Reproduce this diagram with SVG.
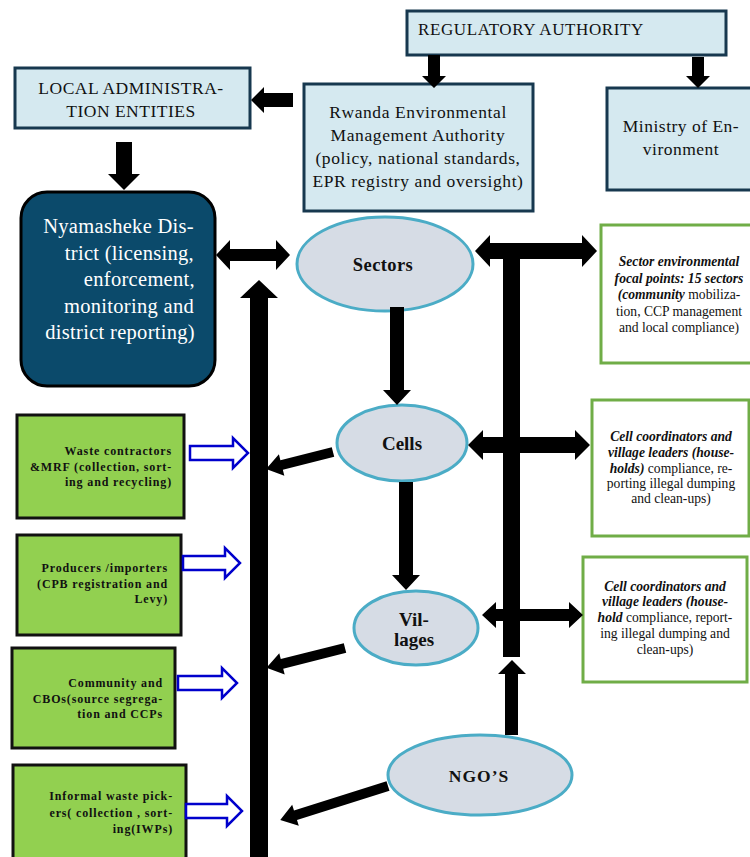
<svg xmlns="http://www.w3.org/2000/svg" width="750" height="857" viewBox="0 0 750 857">
<style>
.box{fill:#d5e9f0;stroke:#17384f;stroke-width:3}
.t{font-family:"Liberation Serif","Times New Roman",serif;fill:#111}
.ell{fill:#d6dce5;stroke:#4bacc6;stroke-width:3}
.gb{fill:#92d050;stroke:#111;stroke-width:3}
.wb{fill:#fff;stroke:#70ad47;stroke-width:3}
.gt{font-family:"Liberation Serif","Times New Roman",serif;font-weight:bold;font-size:12px;letter-spacing:0.85px;fill:#111;text-anchor:end}
.rt{font-family:"Liberation Serif","Times New Roman",serif;font-size:13.6px;fill:#111;text-anchor:middle}
.bi{font-weight:bold;font-style:italic}
.blk{fill:#000}
.hol{fill:#fff;stroke:#0000cc;stroke-width:2.5;stroke-linejoin:miter}
</style>
<rect width="750" height="857" fill="#fff"/>

<g id="regulatory">
<rect class="box" x="407" y="11" width="319" height="44"/>
<text class="t" x="418" y="35" font-size="17" letter-spacing="0.6">REGULATORY AUTHORITY</text>
</g>

<g id="local-admin">
<rect class="box" x="15" y="68" width="235" height="60"/>
<text class="t" x="131" y="94" font-size="17.5" letter-spacing="0.5" text-anchor="middle">LOCAL ADMINISTRA-</text>
<text class="t" x="131" y="117" font-size="17.5" letter-spacing="0.5" text-anchor="middle">TION ENTITIES</text>
</g>

<g id="rema">
<rect class="box" x="304" y="84" width="229" height="127"/>
<text class="t" font-size="17.5" letter-spacing="0.6" text-anchor="middle"><tspan x="418" y="118">Rwanda Environmental</tspan><tspan x="418" y="141">Management Authority</tspan><tspan x="418" y="164">(policy, national standards,</tspan><tspan x="418" y="187">EPR registry and oversight)</tspan></text>
</g>

<g id="ministry">
<rect class="box" x="607" y="88" width="146" height="102"/>
<text class="t" font-size="17.5" letter-spacing="0.5" text-anchor="middle"><tspan x="681" y="132">Ministry of En-</tspan><tspan x="681" y="155">vironment</tspan></text>
</g>

<g id="district">
<rect x="21" y="192" width="194" height="194" rx="26" ry="26" fill="#0b4a6b" stroke="#000" stroke-width="3"/>
<text class="t" font-size="20.5" letter-spacing="0.3" style="fill:#fff" text-anchor="end"><tspan x="194" y="233">Nyamasheke Dis-</tspan><tspan x="194" y="260">trict (licensing,</tspan><tspan x="195" y="286">enforcement,</tspan><tspan x="194" y="313">monitoring and</tspan><tspan x="195" y="339">district reporting)</tspan></text>
</g>

<g id="sectors">
<ellipse class="ell" cx="385" cy="264" rx="88" ry="47"/>
<text class="t" x="383" y="271" font-size="18.5" font-weight="bold" letter-spacing="0.4" text-anchor="middle">Sectors</text>
</g>

<g id="sector-focal">
<rect class="wb" x="601" y="225" width="152" height="138"/>
<text class="rt"><tspan x="679" y="266" class="bi">Sector environmental</tspan><tspan x="679" y="283" class="bi">focal points: 15 sectors</tspan><tspan x="679" y="299"><tspan class="bi">(community</tspan> mobiliza-</tspan><tspan x="679" y="316">tion, CCP management</tspan><tspan x="679" y="332">and local compliance)</tspan></text>
</g>

<g id="cells">
<ellipse class="ell" cx="402" cy="443" rx="65" ry="38"/>
<text class="t" x="402" y="450" font-size="19" font-weight="bold" text-anchor="middle">Cells</text>
</g>

<g id="cell-coordinators-1">
<rect class="wb" x="592" y="400" width="157" height="136"/>
<text class="rt"><tspan x="671" y="441" class="bi">Cell coordinators and</tspan><tspan x="671" y="457" class="bi">village leaders (house-</tspan><tspan x="671" y="473"><tspan class="bi">holds)</tspan> compliance, re-</tspan><tspan x="671" y="488">porting illegal dumping</tspan><tspan x="671" y="503">and clean-ups)</tspan></text>
</g>

<g id="villages">
<ellipse class="ell" cx="416" cy="628" rx="62" ry="37"/>
<text class="t" font-size="19" font-weight="bold" text-anchor="middle"><tspan x="414" y="626">Vil-</tspan><tspan x="414" y="646">lages</tspan></text>
</g>

<g id="cell-coordinators-2">
<rect class="wb" x="583" y="557" width="164" height="125"/>
<text class="rt"><tspan x="665" y="591" class="bi">Cell coordinators and</tspan><tspan x="665" y="606" class="bi">village leaders (house-</tspan><tspan x="665" y="622"><tspan class="bi">hold</tspan> compliance, report-</tspan><tspan x="665" y="638">ing illegal dumping and</tspan><tspan x="665" y="654">clean-ups)</tspan></text>
</g>

<g id="ngos">
<ellipse class="ell" cx="480" cy="775" rx="92" ry="40"/>
<text class="t" x="479" y="782" font-size="17.5" font-weight="bold" letter-spacing="1" text-anchor="middle">NGO’S</text>
</g>

<g id="waste-contractors">
<rect class="gb" x="17" y="415" width="167" height="103"/>
<text class="gt"><tspan x="172" y="455">Waste contractors</tspan><tspan x="172" y="471">&amp;MRF (collection, sort-</tspan><tspan x="172" y="486">ing and recycling)</tspan></text>
</g>

<g id="producers">
<rect class="gb" x="17" y="535" width="164" height="100"/>
<text class="gt"><tspan x="168" y="572">Producers /importers</tspan><tspan x="168" y="588">(CPB registration and</tspan><tspan x="168" y="603">Levy)</tspan></text>
</g>

<g id="community">
<rect class="gb" x="12" y="648" width="163" height="100"/>
<text class="gt"><tspan x="163" y="687">Community and</tspan><tspan x="163" y="703">CBOs(source segrega-</tspan><tspan x="163" y="718">tion and CCPs</tspan></text>
</g>

<g id="waste-pickers">
<rect class="gb" x="13" y="765" width="173" height="100"/>
<text class="gt"><tspan x="173" y="800">Informal waste pick-</tspan><tspan x="173" y="817">ers( collection , sort-</tspan><tspan x="173" y="833">ing(IWPs)</tspan></text>
</g>

<g id="connectors">
<polygon class="blk" points="428,55 440,55 440,76 446,76 434,88 422,76 428,76"/>
<polygon class="blk" points="692,57 704,57 704,76 710,76 698,88 686,76 692,76"/>
<polygon class="blk" points="293,93 264,93 264,87 251,100 264,113 264,107 293,107"/>
<polygon class="blk" points="116,142 132,142 132,174 140,174 124,190 108,174 116,174"/>
<polygon class="blk" points="216,255 230,240 230,249 276,249 276,240 290,255 276,270 276,261 230,261 230,270"/>
<polygon class="blk" points="259,280 278,298 268,298 268,860 250,860 250,298 240,298"/>
<polygon class="blk" points="390,307 404,307 404,390 411,390 397,405 383,390 390,390"/>
<polygon class="blk" points="475,251 490,235 490,243 582,243 582,235 597,251 582,267 582,259 490,259 490,267"/>
<rect class="blk" x="503" y="251" width="17" height="406"/>
<polygon class="blk" points="468,445 483,430 483,437 575,437 575,430 590,445 575,460 575,453 483,453 483,460"/>
<polygon class="blk" points="399,482 413,482 413,575 420,575 406,590 392,575 399,575"/>
<polygon class="blk" points="482,615 496,602 496,609 569,609 569,602 583,615 569,628 569,621 496,621 496,628"/>
<polygon class="blk" points="512,660 526,674 518,674 518,735 505,735 505,674 498,674"/>
<g transform="translate(333,452) rotate(165.8)"><polygon class="blk" points="0,-5 53,-5 53,-11 69,0 53,11 53,5 0,5"/></g>
<g transform="translate(345,648) rotate(165.8)"><polygon class="blk" points="0,-5 65,-5 65,-11 81,0 65,11 65,5 0,5"/></g>
<g transform="translate(388,786) rotate(162.5)"><polygon class="blk" points="0,-5 97,-5 97,-11 113,0 97,11 97,5 0,5"/></g>
<polygon class="hol" points="190,446 233,446 233,438 248,453 233,468 233,460 190,460"/>
<polygon class="hol" points="183,556 225,556 225,548 240,563 225,578 225,570 183,570"/>
<polygon class="hol" points="178,676 222,676 222,668 237,683 222,698 222,690 178,690"/>
<polygon class="hol" points="186,804 227,804 227,796 242,811 227,826 227,818 186,818"/>
</g>
</svg>
